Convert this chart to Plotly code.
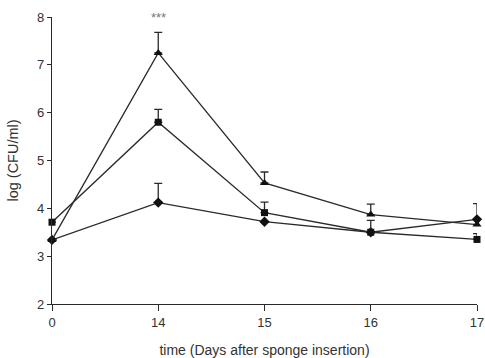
import plotly.graph_objects as go

# Sampling days after sponge insertion
days = ["0", "14", "15", "16", "17"]

# log(CFU/ml) means per group
triangle_vals = [3.34, 7.25, 4.53, 3.87, 3.66]
square_vals = [3.71, 5.80, 3.91, 3.50, 3.35]
diamond_vals = [3.34, 4.12, 3.72, 3.50, 3.77]

# upper error bars (SEM)
triangle_err = [0, 0.43, 0.23, 0.22, 0]
square_err = [0, 0.27, 0.22, 0.25, 0.12]
diamond_err = [0, 0.40, 0, 0, 0.33]

xpos = list(range(len(days)))
line_col = "#2a2a2a"
font = "Liberation Sans, Arial, sans-serif"

fig = go.Figure()

series = [
    (diamond_vals, diamond_err, "diamond", 8),
    (square_vals, square_err, "square", 7),
    (triangle_vals, triangle_err, "triangle-up", 8),
]
for vals, err, sym, sz in series:
    fig.add_trace(go.Scatter(
        x=xpos, y=vals, mode="lines+markers",
        line=dict(color=line_col, width=1.3),
        marker=dict(symbol=sym, size=sz, color="#111"),
        error_y=dict(type="data", array=err, arrayminus=[0] * len(err),
                     symmetric=False, color=line_col, thickness=1.3, width=4),
        cliponaxis=False, showlegend=False,
    ))

fig.add_annotation(x=1, y=8.0, text="***", showarrow=False,
                   font=dict(family=font, size=13, color="#777"),
                   yanchor="middle")

fig.update_layout(
    width=485, height=358,
    margin=dict(l=52, r=8, t=17, b=54),
    paper_bgcolor="white", plot_bgcolor="white",
    font=dict(family=font, color="#333"),
)
fig.update_xaxes(
    range=[0, 4], tickvals=xpos, ticktext=days,
    showline=True, linecolor=line_col, linewidth=1.3,
    ticks="outside", ticklen=6, tickcolor=line_col, tickwidth=1.3,
    showgrid=False, zeroline=False, automargin=False,
    ticklabeloverflow="allow",
    tickfont=dict(size=13, color="#333"),
    title=dict(text="time (Days after sponge insertion)",
               font=dict(size=14, color="#333"), standoff=16),
)
fig.update_yaxes(
    range=[2, 8], dtick=1,
    showline=True, linecolor=line_col, linewidth=1.3,
    ticks="outside", ticklen=4, tickcolor=line_col, tickwidth=1.3,
    showgrid=False, zeroline=False, automargin=False,
    tickfont=dict(size=13, color="#333"),
    title=dict(text="log (CFU/ml)", font=dict(size=14.5, color="#333"), standoff=14),
)

fig.write_html("out.html")
